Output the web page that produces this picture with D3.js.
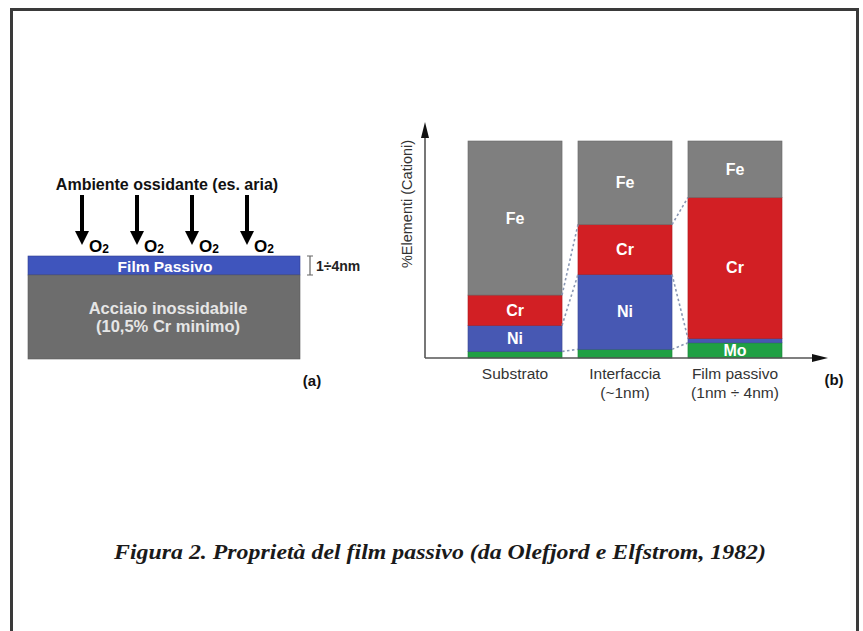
<!DOCTYPE html>
<html>
<head>
<meta charset="utf-8">
<script src="https://cdn.jsdelivr.net/npm/d3@7"></script>
<style>
  html, body { margin: 0; padding: 0; background: #fff; }
  svg { display: block; }
</style>
</head>
<body>
<svg id="fig" width="863" height="631"></svg>
<script>
// Composition of the layers (% of cations), bottom to top: Mo, Ni, Cr, Fe
const categories = ["Substrato", "Interfaccia", "Film passivo"];
const subLabels = ["", "(~1nm)", "(1nm \u00F7 4nm)"];
const elements = ["Mo", "Ni", "Cr", "Fe"];
const moValues = [3, 4, 7];
const niValues = [12, 34.5, 2];
const crValues = [14, 23, 65];
const feValues = [71, 38.5, 26];

// Oxygen arrows over the passive film
const oxygenArrows = ["O", "O", "O", "O"];

const colors = { Fe: "#7f7f7f", Cr: "#d21f24", Ni: "#4758b3", Mo: "#20a044" };
const sans = "'Liberation Sans', Arial, Helvetica, sans-serif";

const svg = d3.select("#fig");

// Outer frame
svg.append("rect")
  .attr("x", 11.5).attr("y", 9.5)
  .attr("width", 846).attr("height", 660)
  .attr("fill", "none").attr("stroke", "#3a3a3a").attr("stroke-width", 3);

// ---------- Panel (a): passive film on stainless steel ----------
const pa = svg.append("g");

pa.append("text")
  .attr("x", 167).attr("y", 190)
  .attr("text-anchor", "middle")
  .attr("font-family", sans).attr("font-weight", "bold").attr("font-size", 16)
  .attr("fill", "#111")
  .text("Ambiente ossidante (es. aria)");

const arrowX = d3.scalePoint().domain(d3.range(oxygenArrows.length)).range([82, 247]);

oxygenArrows.forEach((sym, i) => {
  const x = arrowX(i);
  pa.append("line")
    .attr("x1", x).attr("x2", x).attr("y1", 195).attr("y2", 234)
    .attr("stroke", "#000").attr("stroke-width", 4);
  pa.append("path")
    .attr("d", `M${x - 7},231 L${x + 7},231 L${x},245 Z`)
    .attr("fill", "#000");
  const t = pa.append("text")
    .attr("x", x + 7).attr("y", 252)
    .attr("font-family", sans).attr("font-weight", "bold").attr("font-size", 17)
    .attr("fill", "#000");
  t.append("tspan").text(sym);
  t.append("tspan").attr("font-size", 12).attr("dy", 1).text("2");
});

// passive film layer
pa.append("rect")
  .attr("x", 28).attr("y", 256).attr("width", 272).attr("height", 19)
  .attr("fill", "#3f55bd").attr("stroke", "#2f3f90").attr("stroke-width", 0.6);
pa.append("text")
  .attr("x", 165).attr("y", 271.5).attr("text-anchor", "middle")
  .attr("font-family", sans).attr("font-weight", "bold").attr("font-size", 15.5)
  .attr("fill", "#fff").text("Film Passivo");

// steel substrate
pa.append("rect")
  .attr("x", 28).attr("y", 275).attr("width", 272).attr("height", 84)
  .attr("fill", "#6d6d6d").attr("stroke", "#5a5a5a").attr("stroke-width", 0.6);
pa.append("text")
  .attr("x", 168).attr("y", 314).attr("text-anchor", "middle")
  .attr("font-family", sans).attr("font-weight", "bold").attr("font-size", 16.5)
  .attr("fill", "#e6e6e6").text("Acciaio inossidabile");
pa.append("text")
  .attr("x", 168).attr("y", 332).attr("text-anchor", "middle")
  .attr("font-family", sans).attr("font-weight", "bold").attr("font-size", 16.5)
  .attr("fill", "#e6e6e6").text("(10,5% Cr minimo)");

// thickness bracket
pa.append("path")
  .attr("d", "M307,256 L313,256 M310,256 L310,275 M307,275 L313,275")
  .attr("fill", "none").attr("stroke", "#666").attr("stroke-width", 1.2);
pa.append("text")
  .attr("x", 316).attr("y", 271)
  .attr("font-family", sans).attr("font-weight", "bold").attr("font-size", 14)
  .attr("fill", "#222").text("1\u00F74nm");

pa.append("text")
  .attr("x", 312).attr("y", 386).attr("text-anchor", "middle")
  .attr("font-family", sans).attr("font-weight", "bold").attr("font-size", 15)
  .attr("fill", "#111").text("(a)");

// ---------- Panel (b): stacked composition bars ----------
const pb = svg.append("g");

const x = d3.scaleBand().domain(categories).range([468, 782]).paddingInner(0.145).paddingOuter(0);
const y = d3.scaleLinear().domain([0, 100]).range([358, 141]);

const rows = categories.map((c, i) => ({
  cat: c, Mo: moValues[i], Ni: niValues[i], Cr: crValues[i], Fe: feValues[i]
}));
const series = d3.stack().keys(elements)(rows);

// bars
series.forEach(s => {
  pb.append("g").selectAll("rect")
    .data(s)
    .join("rect")
    .attr("x", d => x(d.data.cat))
    .attr("y", d => y(d[1]))
    .attr("width", x.bandwidth())
    .attr("height", d => y(d[0]) - y(d[1]))
    .attr("fill", colors[s.key])
    .attr("stroke", d3.color(colors[s.key]).darker(0.6))
    .attr("stroke-width", 0.6);
});

// segment labels
series.forEach(s => {
  pb.append("g").selectAll("text")
    .data(s.filter(d => d[1] - d[0] >= 6))
    .join("text")
    .attr("x", d => x(d.data.cat) + x.bandwidth() / 2)
    .attr("y", d => (y(d[0]) + y(d[1])) / 2 + 5.5)
    .attr("text-anchor", "middle")
    .attr("font-family", sans).attr("font-weight", "bold").attr("font-size", 16)
    .attr("fill", "#fff")
    .text(s.key);
});

// dashed connectors between neighbouring bars (Cr band and Mo top)
const boundaryKeys = [["Cr", 1], ["Cr", 0], ["Mo", 1]];
for (let i = 0; i < categories.length - 1; i++) {
  boundaryKeys.forEach(([key, side]) => {
    const s = series.find(q => q.key === key);
    pb.append("line")
      .attr("x1", x(categories[i]) + x.bandwidth())
      .attr("y1", y(s[i][side]))
      .attr("x2", x(categories[i + 1]))
      .attr("y2", y(s[i + 1][side]))
      .attr("stroke", "#8a98b4").attr("stroke-width", 1.6)
      .attr("stroke-dasharray", "2.5,2.5");
  });
}

// axes with arrowheads
pb.append("line")
  .attr("x1", 425).attr("x2", 425).attr("y1", 358).attr("y2", 132)
  .attr("stroke", "#555").attr("stroke-width", 1.6);
pb.append("path").attr("d", "M421,138 L429,138 L425,122 Z").attr("fill", "#111");
pb.append("line")
  .attr("x1", 425).attr("x2", 818).attr("y1", 358).attr("y2", 358)
  .attr("stroke", "#555").attr("stroke-width", 1.6);
pb.append("path").attr("d", "M812,354 L812,362 L828,358 Z").attr("fill", "#111");

// axis title
pb.append("text")
  .attr("transform", "translate(412,204) rotate(-90)")
  .attr("text-anchor", "middle")
  .attr("font-family", sans).attr("font-size", 14.5)
  .attr("fill", "#333")
  .text("%Elementi (Cationi)");

// category labels
categories.forEach((c, i) => {
  const cx = x(c) + x.bandwidth() / 2;
  pb.append("text")
    .attr("x", cx).attr("y", 379).attr("text-anchor", "middle")
    .attr("font-family", sans).attr("font-size", 15.5).attr("fill", "#333")
    .text(c);
  if (subLabels[i]) {
    pb.append("text")
      .attr("x", cx).attr("y", 398).attr("text-anchor", "middle")
      .attr("font-family", sans).attr("font-size", 15.5).attr("fill", "#333")
      .text(subLabels[i]);
  }
});

pb.append("text")
  .attr("x", 834).attr("y", 385).attr("text-anchor", "middle")
  .attr("font-family", sans).attr("font-weight", "bold").attr("font-size", 15)
  .attr("fill", "#111").text("(b)");

// caption
svg.append("text")
  .attr("x", 440).attr("y", 559).attr("text-anchor", "middle")
  .attr("font-family", "'Liberation Serif', 'Times New Roman', serif")
  .attr("font-weight", "bold").attr("font-style", "italic").attr("font-size", 22)
  .attr("textLength", 652).attr("lengthAdjust", "spacingAndGlyphs")
  .attr("fill", "#1a1a1a")
  .text("Figura 2. Propriet\u00E0 del film passivo (da Olefjord e Elfstrom, 1982)");
</script>
</body>
</html>
